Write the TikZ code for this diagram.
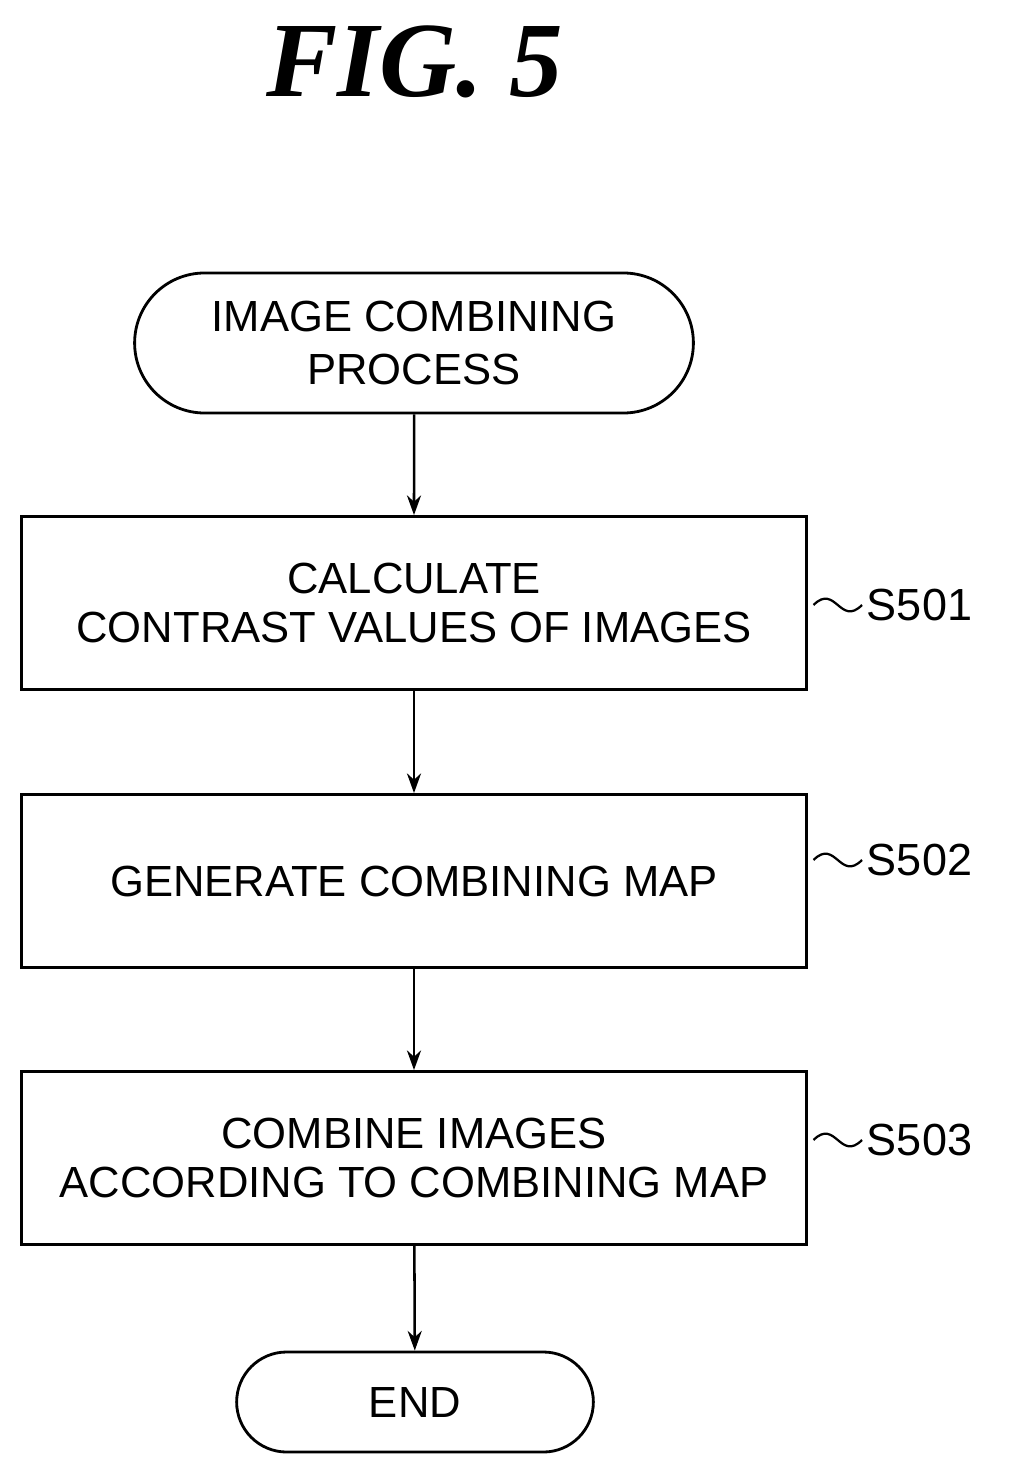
\documentclass[tikz,border=0pt]{standalone}
\usepackage{fontspec}
\setmainfont{Liberation Sans}
\newfontfamily\figfont{Liberation Serif}
\usetikzlibrary{shapes.misc,arrows.meta}
\tikzset{
  proc/.style={draw, line width=2pt, minimum width=19.6cm, minimum height=4.325cm, align=center, font=\fontsize{31}{35}\selectfont},
  term/.style={draw, line width=2pt, rounded rectangle, align=center, font=\fontsize{31}{37}\selectfont},
  flow/.style={line width=1.8pt, -{Stealth[length=14pt,width=10pt]}},
  lab/.style={font=\fontsize{32}{32}\selectfont, anchor=west},
}
\begin{document}
\begin{tikzpicture}[x=0.025cm,y=-0.025cm]
  \useasboundingbox (0,0) rectangle (1012,1464);
  \node[font=\figfont\bfseries\itshape\fontsize{76}{76}\selectfont] at (415,62) (fig) {FIG. 5};

  \node[term, minimum width=14.2cm, minimum height=3.5cm] at (414,343) (start) {IMAGE COMBINING\\PROCESS};
  \node[proc] at (414,603) (s501) {CALCULATE\\CONTRAST VALUES OF IMAGES};
  \node[proc] at (414,881) (s502) {GENERATE COMBINING MAP};
  \node[proc] at (414,1158) (s503) {COMBINE IMAGES\\ACCORDING TO COMBINING MAP};
  \node[term, minimum width=9.15cm, minimum height=2.5cm] at (415,1402) (end) {END};

  \draw[flow] (start) -- (s501);
  \draw[flow] (s501) -- (s502);
  \draw[flow] (s502) -- (s503);
  \draw[flow] (s503) -- (end);

  % step labels
  \node[lab] at (862,605) (l501) {S501};
  \node[lab] at (862,860) (l502) {S502};
  \node[lab] at (862,1140) (l503) {S503};
  \draw[line width=1.6pt] (s501.east |- l501) ++(6,0) .. controls +(22,-22) and +(-22,22) .. (l501.west);
  \draw[line width=1.6pt] (s502.east |- l502) ++(6,0) .. controls +(22,-22) and +(-22,22) .. (l502.west);
  \draw[line width=1.6pt] (s503.east |- l503) ++(6,0) .. controls +(22,-22) and +(-22,22) .. (l503.west);
\end{tikzpicture}
\end{document}
